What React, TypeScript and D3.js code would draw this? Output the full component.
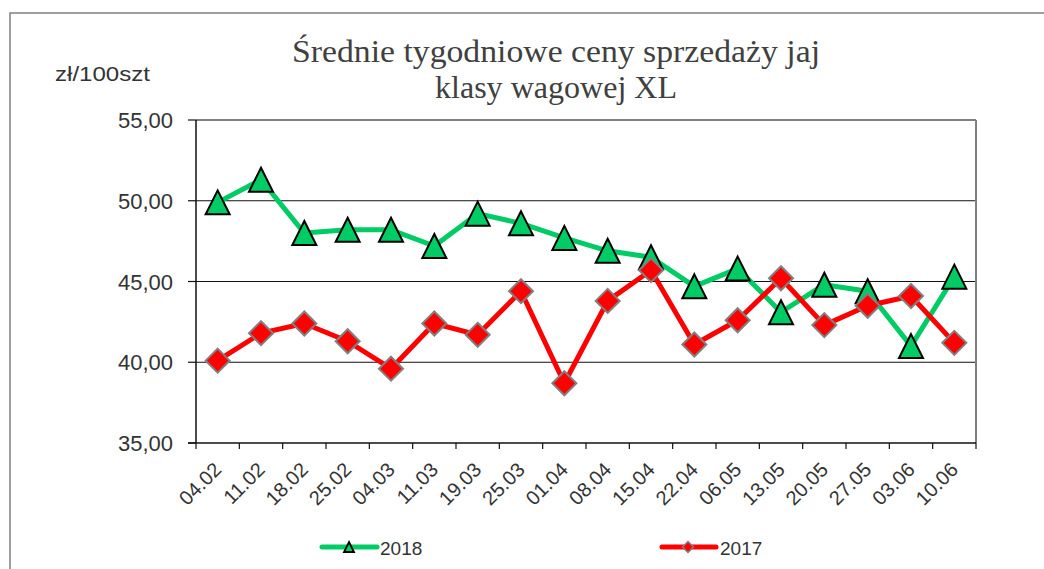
import React from "react";
import * as d3 from "d3";

const categories = ["04.02","11.02","18.02","25.02","04.03","11.03","19.03","25.03","01.04","08.04","15.04","22.04","06.05","13.05","20.05","27.05","03.06","10.06"];
const values2018 = [49.9,51.3,48.0,48.2,48.2,47.2,49.2,48.6,47.7,46.9,46.5,44.7,45.8,43.1,44.8,44.4,41.0,45.3];
const values2017 = [40.1,41.8,42.4,41.3,39.6,42.4,41.7,44.4,38.7,43.8,45.7,41.1,42.6,45.2,42.3,43.5,44.1,41.2];
const yTicks = [35,40,45,50,55];
const seriesNames = ["2018","2017"];
const titleLines = ["Średnie tygodniowe ceny sprzedaży jaj","klasy wagowej XL"];
const unitLabel = "zł/100szt";

const W = 1044, H = 569;
const plot = { left: 196, right: 976, top: 120, bottom: 443 };
const GREEN = "#00CC66";
const RED = "#FF0000";
const SANS = "'Liberation Sans', Arial, sans-serif";
const SERIF = "'Liberation Serif', 'Times New Roman', serif";

const tri = (x: number, y: number, w: number, h: number) =>
  `M${x},${y - h / 2}L${x + w / 2},${y + h / 2}L${x - w / 2},${y + h / 2}Z`;
const dia = (x: number, y: number, r: number) =>
  `M${x},${y - r}L${x + r},${y}L${x},${y + r}L${x - r},${y}Z`;

export default function App() {
  const x = d3.scaleBand<string>().domain(categories).range([plot.left, plot.right]).padding(0);
  const y = d3.scaleLinear().domain([35, 55]).range([plot.bottom, plot.top]);
  const cx = (c: string) => (x(c) as number) + x.bandwidth() / 2;
  const line = d3.line<number>().x((_, i) => cx(categories[i])).y((v) => y(v));
  const boundaries = categories.map((c) => x(c) as number).concat([plot.right]);

  return (
    <svg width={W} height={H} style={{ position: "absolute", left: 0, top: 0, background: "#fff" }}>
      <rect x={10} y={13} width={1040} height={570} fill="#fff" stroke="#808080" strokeWidth={1.5} />
      {/* title */}
      <text x={556} y={62} textAnchor="middle" fontFamily={SERIF} fontSize={32} fill="#404040"
        textLength={528} lengthAdjust="spacingAndGlyphs">{titleLines[0]}</text>
      <text x={556} y={98} textAnchor="middle" fontFamily={SERIF} fontSize={32} fill="#404040"
        textLength={242} lengthAdjust="spacingAndGlyphs">{titleLines[1]}</text>
      <text x={55} y={81} fontFamily={SANS} fontSize={21} fill="#333" textLength={95} lengthAdjust="spacingAndGlyphs">{unitLabel}</text>

      {/* gridlines */}
      {yTicks.filter((t) => t !== 35 && t !== 55).map((t) => (
        <line key={t} x1={plot.left} x2={plot.right} y1={y(t)} y2={y(t)} stroke="#111" strokeWidth={1} />
      ))}
      {/* plot border top/right */}
      <line x1={plot.left} x2={plot.right} y1={plot.top} y2={plot.top} stroke="#808080" strokeWidth={2} />
      <line x1={plot.right} x2={plot.right} y1={plot.top} y2={plot.bottom} stroke="#808080" strokeWidth={2} />
      {/* axes */}
      <line x1={plot.left} x2={plot.left} y1={plot.top} y2={plot.bottom} stroke="#111" strokeWidth={1.5} />
      <line x1={plot.left - 8} x2={plot.right} y1={plot.bottom} y2={plot.bottom} stroke="#111" strokeWidth={1.5} />
      {yTicks.map((t) => (
        <g key={t}>
          <line x1={plot.left - 8} x2={plot.left} y1={y(t)} y2={y(t)} stroke="#111" strokeWidth={1.2} />
          <text x={173} y={y(t) + 8} textAnchor="end" fontFamily={SANS} fontSize={22} fill="#333">
            {d3.format(".2f")(t).replace(".", ",")}
          </text>
        </g>
      ))}
      {boundaries.map((b, i) => (
        <line key={i} x1={b} x2={b} y1={plot.bottom} y2={plot.bottom + 6} stroke="#111" strokeWidth={1.2} />
      ))}
      {categories.map((c) => (
        <text key={c} transform={`translate(${cx(c) + 5},${471}) rotate(-45)`} textAnchor="end"
          fontFamily={SANS} fontSize={20} fill="#333">{c}</text>
      ))}

      {/* series 2018 */}
      <path d={line(values2018) as string} fill="none" stroke={GREEN} strokeWidth={5} strokeLinejoin="round" />
      {values2018.map((v, i) => (
        <path key={i} d={tri(cx(categories[i]), y(v), 24, 24)} fill={GREEN} stroke="#000" strokeWidth={2} strokeLinejoin="miter" />
      ))}
      {/* series 2017 */}
      <path d={line(values2017) as string} fill="none" stroke={RED} strokeWidth={5} strokeLinejoin="round" />
      {values2017.map((v, i) => (
        <path key={i} d={dia(cx(categories[i]), y(v), 12)} fill={RED} stroke="#808080" strokeWidth={2} />
      ))}

      {/* legend */}
      <line x1={322} x2={377} y1={547} y2={547} stroke={GREEN} strokeWidth={5} strokeLinecap="round" />
      <path d={tri(349, 547, 10, 10)} fill={GREEN} stroke="#000" strokeWidth={1.8} />
      <text x={380} y={555} fontFamily={SANS} fontSize={19} fill="#333">{seriesNames[0]}</text>
      <line x1={662} x2={716} y1={547} y2={547} stroke={RED} strokeWidth={5} strokeLinecap="round" />
      <path d={dia(688, 547, 5.5)} fill={RED} stroke="#808080" strokeWidth={1.5} />
      <text x={720} y={555} fontFamily={SANS} fontSize={19} fill="#333">{seriesNames[1]}</text>
    </svg>
  );
}
